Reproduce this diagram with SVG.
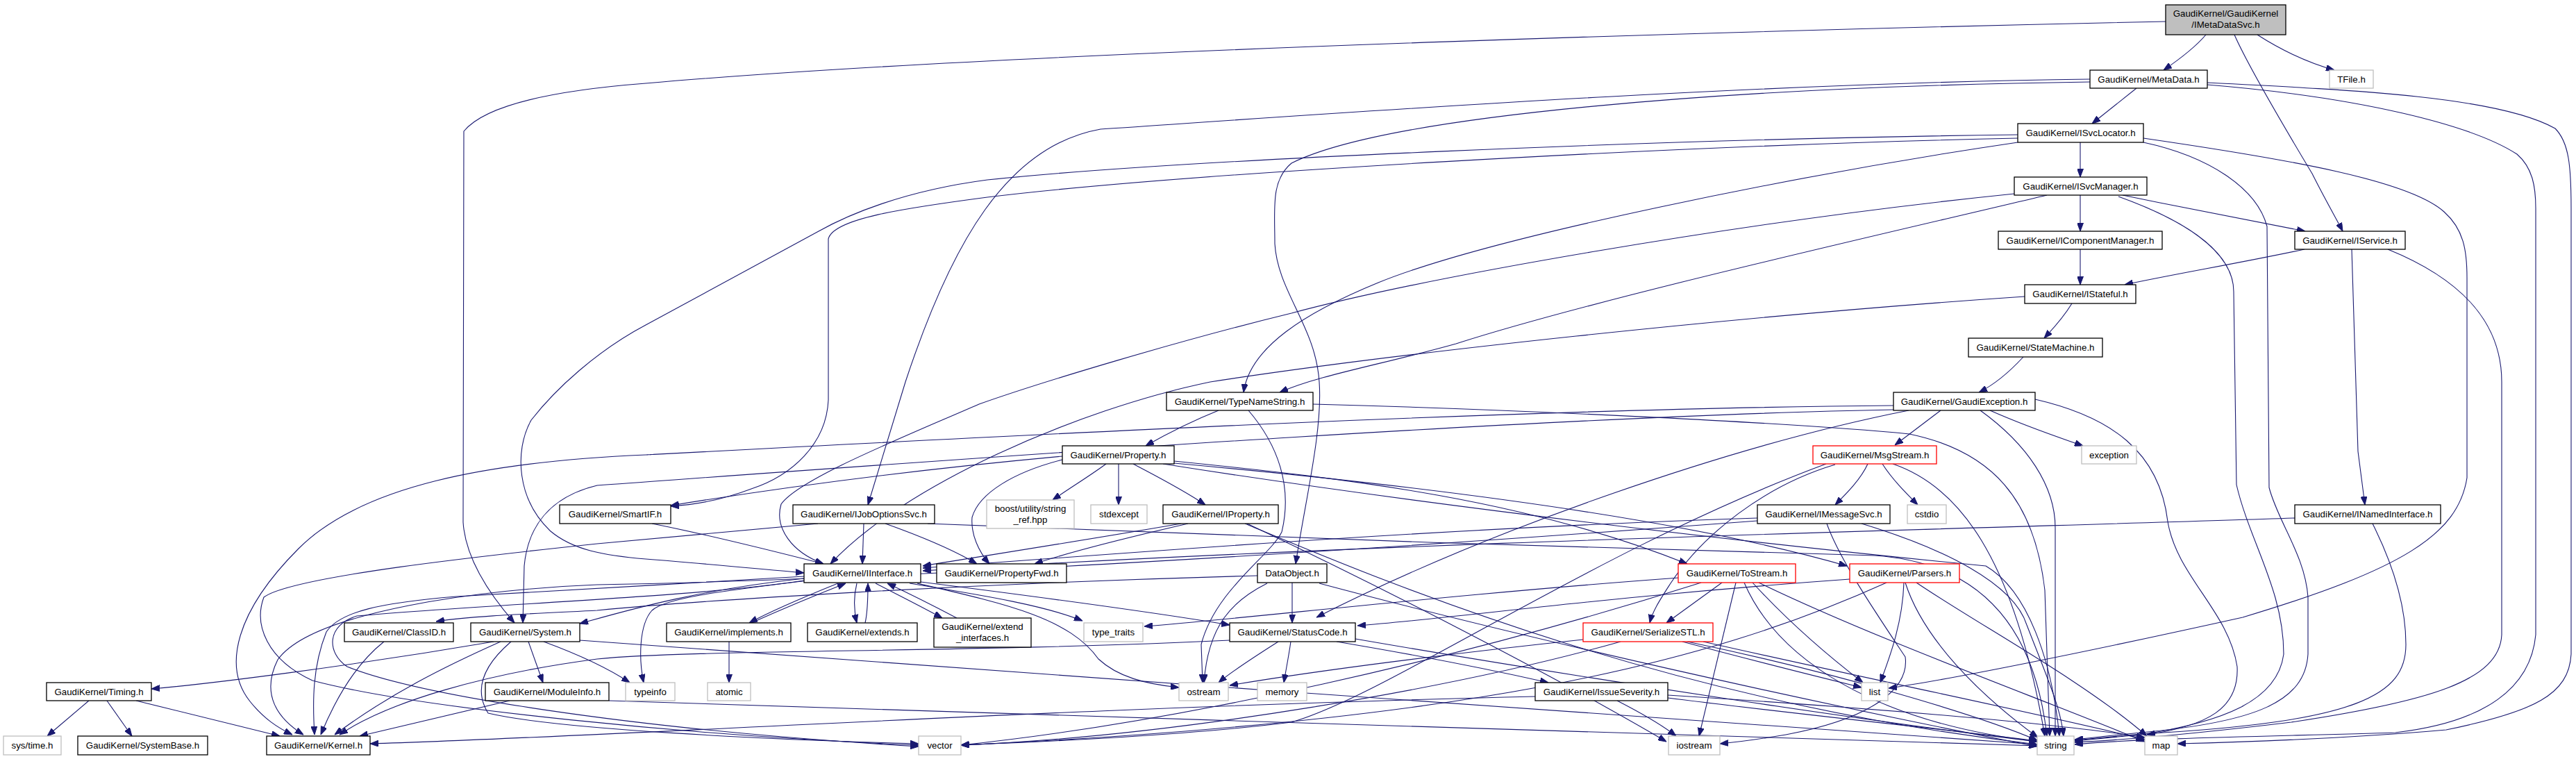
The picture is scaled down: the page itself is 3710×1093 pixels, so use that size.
<svg xmlns="http://www.w3.org/2000/svg" width="3710" height="1093" viewBox="0 0 3710 1093">
<defs>
<style>
.e path{fill:none;stroke:#191970;stroke-width:1.1;marker-end:url(#a)}
.n rect{fill:#fff;stroke:#000;stroke-width:1.3}
.n.g rect{stroke:#bfbfbf}
.n.r rect{stroke:#ff0000}
.n.top rect{fill:#bfbfbf}
text{font-family:"Liberation Sans",Arial,sans-serif;font-size:13.3px;text-anchor:middle;fill:#000}
</style>
<marker id="a" markerWidth="12" markerHeight="9" refX="12" refY="4.5" orient="auto" markerUnits="userSpaceOnUse"><path d="M0,0 L12,4.5 L0,9 z" fill="#191970" stroke="#191970" stroke-width="1"/></marker>
</defs>
<rect width="3710" height="1093" fill="#fff"/>
<g class="e" id="edges">
<path d="M3177,50 C3160,70 3135,88 3116,101"/>
<path d="M3251,50 C3290,75 3330,92 3362,101"/>
<path d="M3218,50 C3240,100 3300,200 3330,250 C3350,290 3365,315 3374,333"/>
<path d="M3119,31 C2700,40 1500,70 930,120 C800,130 700,150 668,189 L667,752 C670,800 700,850 741,897"/>
<path d="M3077,127 L3013,178"/>
<path d="M3010,114 C2500,120 1900,165 1585,186 C1450,210 1370,350 1304,550 L1250,727"/>
<path d="M3010,118 C2500,125 2000,165 1860,235 C1830,260 1836,300 1836,351 C1840,420 1895,470 1900,550 C1905,620 1880,720 1866,812"/>
<path d="M3179,119 C3400,130 3600,140 3680,185 C3700,205 3703,240 3703,300 L3703,942 C3700,1000 3650,1025 3523,1051 C3400,1062 3250,1068 3136,1071"/>
<path d="M3179,122 C3400,140 3560,180 3625,222 C3648,242 3652,270 3652,300 L3652,914 C3645,990 3580,1040 3450,1055 C3300,1060 3100,1062 2988,1072"/>
<path d="M2996,205 L2996,255"/>
<path d="M2906,194 C2400,200 1700,230 1422,259 C1300,275 1220,310 1179,333 L930,468 C860,505 800,560 765,605 C740,650 745,720 793,765 C825,792 870,800 930,805 C1020,812 1100,820 1158,825"/>
<path d="M2906,199 C2400,210 1700,250 1422,284 C1300,300 1200,315 1193,344 L1193,576 C1190,640 1140,685 1082,704 C1040,720 1000,727 966,729"/>
<path d="M2906,205 C2600,250 2150,340 1985,407 C1880,450 1800,500 1791,565"/>
<path d="M3087,199 C3300,230 3470,260 3520,305 C3548,330 3553,360 3553,400 L3553,688 C3540,770 3460,820 3230,889 C3000,940 2800,980 2720,991"/>
<path d="M3087,205 C3180,225 3250,270 3265,326 L3268,702 C3280,750 3320,800 3324,860 L3324,942 C3320,1010 3250,1040 3083,1055 C3030,1060 3000,1064 2988,1065"/>
<path d="M2996,281 L2996,333"/>
<path d="M3057,281 C3150,300 3250,320 3320,333"/>
<path d="M2901,279 C2500,320 2050,400 1860,451 C1700,490 1500,550 1410,582 C1300,630 1150,690 1125,726 C1115,760 1140,795 1186,812"/>
<path d="M2948,281 C2700,340 2300,430 2097,495 C1990,525 1900,540 1843,565"/>
<path d="M3051,283 C3140,315 3217,360 3217,420 L3221,698 C3240,780 3289,850 3289,942 C3280,1010 3200,1040 3083,1058 C3030,1063 3000,1066 2988,1067"/>
<path d="M2996,359 L2996,410"/>
<path d="M3319,359 C3230,378 3130,395 3060,410"/>
<path d="M3387,359 L3396,650 L3406,727"/>
<path d="M3439,359 C3540,400 3603,460 3603,550 L3603,914 C3600,980 3500,1010 3300,1040 C3150,1058 3050,1066 2988,1069"/>
<path d="M2984,437 C2970,460 2955,475 2944,487"/>
<path d="M2916,427 C2500,455 2000,510 1743,550 C1550,590 1300,700 1196,812"/>
<path d="M2914,514 C2890,540 2870,555 2850,565"/>
<path d="M2795,591 L2729,641"/>
<path d="M2866,591 C2920,615 2960,628 3000,642"/>
<path d="M2852,591 C2920,640 2960,700 2960,760 L2960,1060"/>
<path d="M2931,575 C3040,600 3110,650 3122,751 C3135,830 3210,880 3222,960 C3225,1020 3180,1045 3092,1058"/>
<path d="M2727,584 C2200,588 1500,625 930,655 C700,665 520,700 430,790 C340,880 320,960 360,1010 C380,1035 400,1048 421,1058"/>
<path d="M2727,590 C2200,600 1400,660 860,699 C790,716 760,760 755,815 L753,897"/>
<path d="M2749,591 C2500,640 2150,760 1896,889"/>
<path d="M1755,591 C1720,605 1680,625 1650,642"/>
<path d="M1891,582 C2200,590 2600,610 2750,625 C2870,650 2930,720 2945,850 L2952,1060"/>
<path d="M1798,591 C1840,640 1862,700 1846,766 C1830,800 1750,850 1730,928 L1732,983"/>
<path d="M1593,668 C1570,685 1545,700 1516,720"/>
<path d="M1611,668 L1611,727"/>
<path d="M1632,668 C1660,683 1700,703 1736,727"/>
<path d="M1530,662 C1460,680 1410,710 1400,745 C1398,770 1410,795 1425,812"/>
<path d="M1530,657 C1345,674 1167,695 966,728"/>
<path d="M1691,664 C1950,690 2200,720 2430,812"/>
<path d="M1691,667 C2000,695 2400,740 2660,815"/>
<path d="M1675,668 C2100,735 2600,790 2860,815 C2920,850 2955,950 2966,1060"/>
<path d="M1701,754 C1550,780 1420,800 1329,815"/>
<path d="M1711,754 C1620,775 1540,795 1490,812"/>
<path d="M1793,754 C2000,840 2400,1010 2934,1072"/>
<path d="M1796,754 C2000,850 2250,980 2400,1068"/>
<path d="M1861,839 L1861,897"/>
<path d="M1825,840 C1775,865 1740,900 1734,983"/>
<path d="M1811,829 C1400,840 1000,865 860,879 C760,884 680,887 628,895"/>
<path d="M1900,840 C2200,920 2600,1010 2934,1075"/>
<path d="M1841,924 C1800,950 1770,970 1755,983"/>
<path d="M1859,924 C1856,945 1852,965 1849,983"/>
<path d="M1925,924 C2050,945 2150,965 2230,983"/>
<path d="M1771,922 C1400,940 1000,935 860,949 C700,970 560,1010 489,1058"/>
<path d="M1952,920 C2300,980 2700,1040 2934,1068"/>
<path d="M2329,1009 C2370,1030 2395,1045 2414,1060"/>
<path d="M2402,1005 C2600,1030 2800,1050 2934,1067"/>
<path d="M2402,1001 C2700,1020 2950,1040 3089,1062"/>
<path d="M2211,1003 C1500,1020 900,1060 533,1071"/>
<path d="M2690,668 C2680,690 2660,710 2643,727"/>
<path d="M2711,668 C2725,690 2745,710 2762,727"/>
<path d="M2643,669 C2542,699 2453,769 2406,840 C2390,865 2380,880 2376,897"/>
<path d="M2630,668 C2300,790 2000,1000 1860,1040 C1700,1060 1500,1068 1384,1073"/>
<path d="M2726,668 C2820,700 2900,800 2945,1060"/>
<path d="M2531,746 C2100,760 1700,790 1329,818"/>
<path d="M2631,754 C2649,805 2700,880 2744,946 C2750,990 2700,1034 2572,1058 C2530,1065 2500,1069 2477,1071"/>
<path d="M2681,754 C2800,790 2900,840 2919,900 C2950,980 2968,1020 2972,1060"/>
<path d="M3305,746 C2900,760 2000,780 1329,822"/>
<path d="M3417,754 C3450,820 3465,880 3465,928 C3465,1000 3400,1040 3083,1057 C3030,1062 3000,1065 2988,1066"/>
<path d="M939,754 C1020,770 1100,790 1186,812"/>
<path d="M1244,754 L1242,812"/>
<path d="M1275,754 C1320,770 1370,790 1407,812"/>
<path d="M1336,754 C1700,770 2300,790 2700,800 C2850,810 2930,900 2948,1060"/>
<path d="M1178,754 C1000,770 900,780 860,783 C700,800 420,830 380,860 C365,900 385,950 450,980 C600,1020 1000,1060 1323,1073"/>
<path d="M1207,840 C1170,855 1120,875 1079,897"/>
<path d="M1082,897 C1120,880 1180,855 1218,840"/>
<path d="M1234,840 C1229,860 1230,880 1234,897"/>
<path d="M1246,897 C1250,880 1250,860 1250,840"/>
<path d="M1261,840 C1300,860 1330,875 1357,890"/>
<path d="M1378,890 C1340,870 1310,855 1278,840"/>
<path d="M1310,840 C1400,855 1500,870 1559,894"/>
<path d="M1321,840 C1450,870 1540,890 1582,949 C1610,975 1650,985 1698,990"/>
<path d="M1326,838 C1500,860 1650,880 1771,900"/>
<path d="M1171,835 C1050,850 960,860 939,879 C920,900 920,950 927,983"/>
<path d="M1158,833 C1000,850 900,880 835,898"/>
<path d="M1158,830 C1000,840 800,850 657,859 C550,868 490,880 470,910 C450,960 450,1010 453,1058"/>
<path d="M1158,836 C1000,860 700,870 514,887 C470,900 470,940 500,960 C600,1000 900,1050 1323,1075"/>
<path d="M553,924 C520,950 490,990 462,1058"/>
<path d="M711,924 C500,960 300,985 218,992"/>
<path d="M721,924 C640,960 560,1000 482,1058"/>
<path d="M761,924 L782,983"/>
<path d="M783,924 C840,945 880,965 907,983"/>
<path d="M736,924 C700,955 680,990 703,1027 C800,1050 1100,1065 1323,1071"/>
<path d="M835,922 C1400,960 2400,1040 2934,1072"/>
<path d="M128,1009 L68,1060"/>
<path d="M154,1009 L190,1060"/>
<path d="M196,1009 L403,1060"/>
<path d="M734,1009 L518,1060"/>
<path d="M877,1009 C1500,1030 2500,1060 2934,1074"/>
<path d="M1050,924 L1050,983"/>
<path d="M2480,839 L2400,897"/>
<path d="M2500,839 L2447,1060"/>
<path d="M2524,839 C2580,900 2640,950 2683,983"/>
<path d="M2512,839 C2560,950 2700,1040 2934,1068"/>
<path d="M2533,839 C2700,920 2950,1010 3089,1068"/>
<path d="M2450,839 C2100,950 1700,1040 1384,1073"/>
<path d="M2418,832 C2100,855 1800,890 1648,902"/>
<path d="M2664,834 C2300,860 2100,890 1955,901"/>
<path d="M2742,839 C2740,900 2720,950 2708,983"/>
<path d="M2744,839 C2770,920 2850,1000 2935,1062"/>
<path d="M2760,839 C2850,900 3000,980 3092,1060"/>
<path d="M2717,839 C2450,960 2100,1040 1384,1073"/>
<path d="M2423,924 C2520,950 2620,975 2681,990"/>
<path d="M2453,924 C2700,980 2950,1030 3089,1065"/>
<path d="M2430,924 C2650,970 2850,1030 2934,1066"/>
<path d="M2334,924 C2100,990 1700,1060 1384,1073"/>
<path d="M2280,921 C2100,940 1900,965 1771,987"/>
<path d="M2531,750 C2000,790 1300,835 860,842 C700,848 450,880 400,950 C375,1000 400,1035 437,1058"/>
</g>
<g id="n1" class="n top"><rect x="3119" y="7" width="173" height="43"/><text x="3205.5" y="24">GaudiKernel/GaudiKernel</text><text x="3205.5" y="40">/IMetaDataSvc.h</text></g>
<g id="n2" class="n"><rect x="3010" y="101" width="169" height="26"/><text x="3094.5" y="118.5">GaudiKernel/MetaData.h</text></g>
<g id="n3" class="n g"><rect x="3355" y="101" width="63" height="26"/><text x="3386.5" y="118.5">TFile.h</text></g>
<g id="n4" class="n"><rect x="2906" y="178" width="181" height="27"/><text x="2996.5" y="196">GaudiKernel/ISvcLocator.h</text></g>
<g id="n5" class="n"><rect x="2901" y="255" width="191" height="26"/><text x="2996.5" y="272.5">GaudiKernel/ISvcManager.h</text></g>
<g id="n6" class="n"><rect x="2878" y="333" width="236" height="26"/><text x="2996" y="350.5">GaudiKernel/IComponentManager.h</text></g>
<g id="n7" class="n"><rect x="3305" y="333" width="159" height="26"/><text x="3384.5" y="350.5">GaudiKernel/IService.h</text></g>
<g id="n8" class="n"><rect x="2916" y="410" width="160" height="27"/><text x="2996" y="428">GaudiKernel/IStateful.h</text></g>
<g id="n9" class="n"><rect x="2835" y="487" width="193" height="27"/><text x="2931.5" y="505">GaudiKernel/StateMachine.h</text></g>
<g id="n10" class="n"><rect x="1680" y="565" width="211" height="26"/><text x="1785.5" y="582.5">GaudiKernel/TypeNameString.h</text></g>
<g id="n11" class="n"><rect x="2727" y="565" width="204" height="26"/><text x="2829" y="582.5">GaudiKernel/GaudiException.h</text></g>
<g id="n12" class="n"><rect x="1530" y="642" width="161" height="26"/><text x="1610.5" y="659.5">GaudiKernel/Property.h</text></g>
<g id="n13" class="n r"><rect x="2611" y="642" width="178" height="26"/><text x="2700" y="659.5">GaudiKernel/MsgStream.h</text></g>
<g id="n14" class="n g"><rect x="2998" y="642" width="79" height="26"/><text x="3037.5" y="659.5">exception</text></g>
<g id="n15" class="n"><rect x="806" y="727" width="160" height="27"/><text x="886" y="745">GaudiKernel/SmartIF.h</text></g>
<g id="n16" class="n"><rect x="1142" y="727" width="204" height="27"/><text x="1244" y="745">GaudiKernel/IJobOptionsSvc.h</text></g>
<g id="n17" class="n g"><rect x="1421" y="720" width="126" height="41"/><text x="1484" y="736.5">boost/utility/string</text><text x="1484" y="752.5">_ref.hpp</text></g>
<g id="n18" class="n g"><rect x="1571" y="727" width="81" height="27"/><text x="1611.5" y="745">stdexcept</text></g>
<g id="n19" class="n"><rect x="1675" y="727" width="166" height="27"/><text x="1758" y="745">GaudiKernel/IProperty.h</text></g>
<g id="n20" class="n"><rect x="2531" y="727" width="191" height="27"/><text x="2626.5" y="745">GaudiKernel/IMessageSvc.h</text></g>
<g id="n21" class="n g"><rect x="2747" y="727" width="56" height="27"/><text x="2775" y="745">cstdio</text></g>
<g id="n22" class="n"><rect x="3305" y="727" width="210" height="27"/><text x="3410" y="745">GaudiKernel/INamedInterface.h</text></g>
<g id="n23" class="n"><rect x="1158" y="812" width="168" height="27"/><text x="1242" y="830">GaudiKernel/IInterface.h</text></g>
<g id="n24" class="n"><rect x="1349" y="812" width="187" height="27"/><text x="1442.5" y="830">GaudiKernel/PropertyFwd.h</text></g>
<g id="n25" class="n"><rect x="1811" y="812" width="100" height="27"/><text x="1861" y="830">DataObject.h</text></g>
<g id="n26" class="n r"><rect x="2417" y="812" width="169" height="27"/><text x="2501.5" y="830">GaudiKernel/ToStream.h</text></g>
<g id="n27" class="n r"><rect x="2664" y="812" width="158" height="27"/><text x="2743" y="830">GaudiKernel/Parsers.h</text></g>
<g id="n28" class="n"><rect x="496" y="897" width="157" height="27"/><text x="574.5" y="915">GaudiKernel/ClassID.h</text></g>
<g id="n29" class="n"><rect x="678" y="897" width="157" height="27"/><text x="756.5" y="915">GaudiKernel/System.h</text></g>
<g id="n30" class="n"><rect x="960" y="897" width="179" height="27"/><text x="1049.5" y="915">GaudiKernel/implements.h</text></g>
<g id="n31" class="n"><rect x="1163" y="897" width="158" height="27"/><text x="1242" y="915">GaudiKernel/extends.h</text></g>
<g id="n32" class="n"><rect x="1345" y="890" width="140" height="42"/><text x="1415" y="907">GaudiKernel/extend</text><text x="1415" y="923">_interfaces.h</text></g>
<g id="n33" class="n g"><rect x="1561" y="897" width="85" height="27"/><text x="1603.5" y="915">type_traits</text></g>
<g id="n34" class="n"><rect x="1771" y="897" width="181" height="27"/><text x="1861.5" y="915">GaudiKernel/StatusCode.h</text></g>
<g id="n35" class="n r"><rect x="2280" y="897" width="187" height="27"/><text x="2373.5" y="915">GaudiKernel/SerializeSTL.h</text></g>
<g id="n36" class="n"><rect x="67" y="983" width="151" height="26"/><text x="142.5" y="1000.5">GaudiKernel/Timing.h</text></g>
<g id="n37" class="n"><rect x="699" y="983" width="178" height="26"/><text x="788" y="1000.5">GaudiKernel/ModuleInfo.h</text></g>
<g id="n38" class="n g"><rect x="901" y="983" width="71" height="26"/><text x="936.5" y="1000.5">typeinfo</text></g>
<g id="n39" class="n g"><rect x="1019" y="983" width="62" height="26"/><text x="1050" y="1000.5">atomic</text></g>
<g id="n40" class="n g"><rect x="1698" y="983" width="71" height="26"/><text x="1733.5" y="1000.5">ostream</text></g>
<g id="n41" class="n g"><rect x="1811" y="983" width="71" height="26"/><text x="1846.5" y="1000.5">memory</text></g>
<g id="n42" class="n"><rect x="2211" y="983" width="191" height="26"/><text x="2306.5" y="1000.5">GaudiKernel/IssueSeverity.h</text></g>
<g id="n43" class="n g"><rect x="2681" y="983" width="38" height="26"/><text x="2700" y="1000.5">list</text></g>
<g id="n44" class="n g"><rect x="5" y="1060" width="83" height="27"/><text x="46.5" y="1078">sys/time.h</text></g>
<g id="n45" class="n"><rect x="112" y="1060" width="187" height="27"/><text x="205.5" y="1078">GaudiKernel/SystemBase.h</text></g>
<g id="n46" class="n"><rect x="384" y="1060" width="149" height="27"/><text x="458.5" y="1078">GaudiKernel/Kernel.h</text></g>
<g id="n47" class="n g"><rect x="1323" y="1060" width="61" height="27"/><text x="1353.5" y="1078">vector</text></g>
<g id="n48" class="n g"><rect x="2403" y="1060" width="74" height="27"/><text x="2440" y="1078">iostream</text></g>
<g id="n49" class="n g"><rect x="2934" y="1060" width="53" height="27"/><text x="2960.5" y="1078">string</text></g>
<g id="n50" class="n g"><rect x="3089" y="1060" width="47" height="27"/><text x="3112.5" y="1078">map</text></g>
</svg>
